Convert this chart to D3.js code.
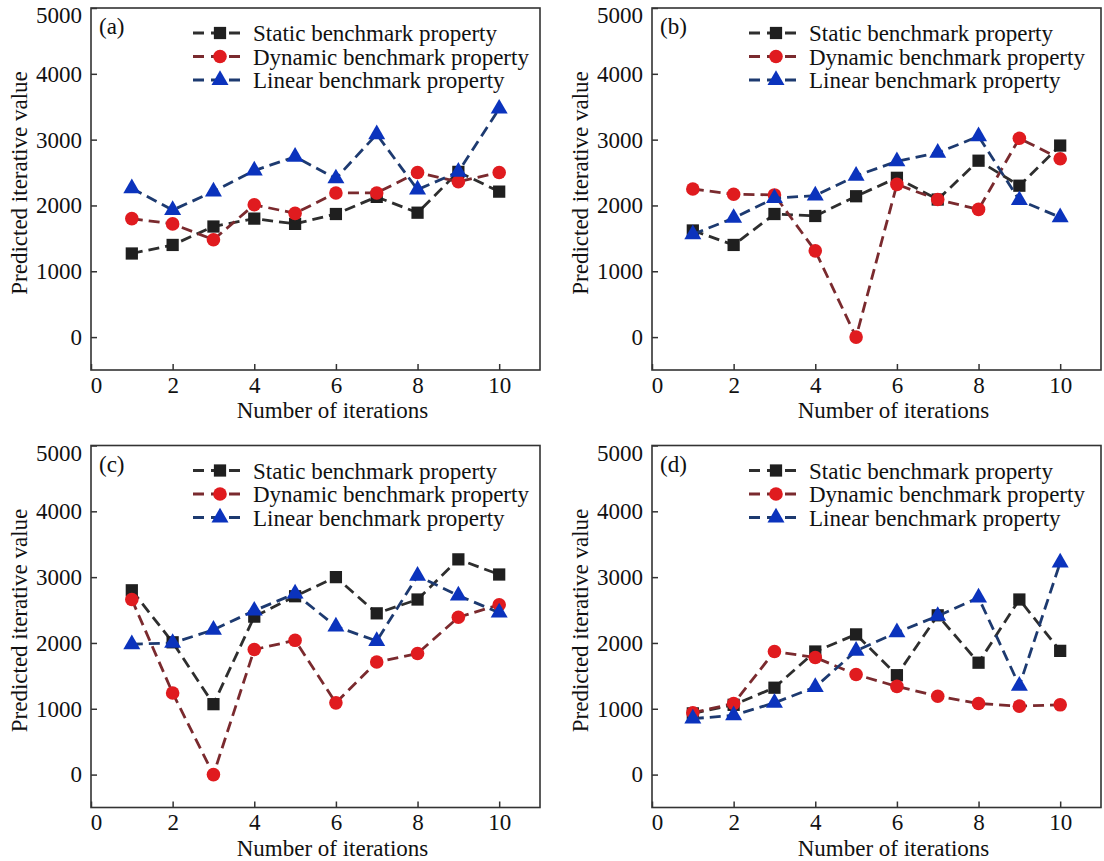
<!DOCTYPE html>
<html>
<head>
<meta charset="utf-8">
<script src="https://cdn.jsdelivr.net/npm/d3@7"></script>
<style>
  body { margin: 0; background: #fff; }
  svg { display: block; }
  svg text { font-family: "Liberation Serif", "Times New Roman", serif; }
</style>
</head>
<body>
<div id="chart"></div>
<script>
const iterations = [1, 2, 3, 4, 5, 6, 7, 8, 9, 10];
const xTicks = [0, 2, 4, 6, 8, 10];
const yTicks = [0, 1000, 2000, 3000, 4000, 5000];
const panelLabels = ["(a)", "(b)", "(c)", "(d)"];
const seriesNames = ["Static benchmark property", "Dynamic benchmark property", "Linear benchmark property"];

const staticA = [1270, 1400, 1680, 1800, 1720, 1870, 2130, 1890, 2510, 2210];
const dynamicA = [1800, 1720, 1480, 2010, 1880, 2190, 2190, 2500, 2360, 2500];
const linearA = [2260, 1930, 2210, 2530, 2740, 2410, 3080, 2240, 2510, 3470];

const staticB = [1620, 1400, 1870, 1840, 2140, 2420, 2090, 2680, 2300, 2910];
const dynamicB = [2250, 2170, 2160, 1310, 0, 2320, 2090, 1940, 3020, 2710];
const linearB = [1560, 1810, 2110, 2150, 2450, 2670, 2800, 3050, 2080, 1820];

const staticC = [2800, 2010, 1070, 2400, 2710, 3000, 2450, 2660, 3270, 3040];
const dynamicC = [2660, 1240, 0, 1900, 2040, 1090, 1710, 1840, 2390, 2580];
const linearC = [1980, 2000, 2200, 2490, 2750, 2250, 2030, 3020, 2720, 2460];

const staticD = [930, 1060, 1320, 1870, 2130, 1510, 2420, 1700, 2660, 1880];
const dynamicD = [940, 1080, 1870, 1780, 1520, 1340, 1190, 1080, 1040, 1060];
const linearD = [850, 900, 1090, 1330, 1880, 2160, 2410, 2690, 1350, 3220];

const panelValues = [
  [staticA, dynamicA, linearA],
  [staticB, dynamicB, linearB],
  [staticC, dynamicC, linearC],
  [staticD, dynamicD, linearD]
];

// layout of the four panels
const panelW = 449, panelH = 362;
const layout = [
  { left: 91, top: 8, legendX: 162 },
  { left: 652, top: 8, legendX: 157 },
  { left: 91, top: 445.5, legendX: 162 },
  { left: 652, top: 445.5, legendX: 157 }
];

const styles = [
  { line: "#2e2e2e", fill: "#1f1f1f", symbol: d3.symbolSquare, size: 150 },
  { line: "#7a2a2e", fill: "#e01b1f", symbol: d3.symbolCircle, size: 145 },
  { line: "#1d3a70", fill: "#0b33bd", symbol: d3.symbolTriangle, size: 125 }
];

const fontSize = 23;
const axisColor = "#333";
const textColor = "#111";

const svg = d3.select("#chart").append("svg")
  .attr("width", 1104)
  .attr("height", 861);

const x = d3.scaleLinear().domain([0, 11]).range([0, panelW]);
const y = d3.scaleLinear().domain([-500, 5000]).range([panelH, 0]);

function styleAxis(axisG) {
  axisG.attr("font-family", null).attr("font-size", null);
  axisG.select(".domain").remove();
  axisG.selectAll("text").attr("font-size", fontSize).attr("fill", textColor);
  axisG.selectAll(".tick line").attr("stroke", axisColor).attr("stroke-width", 1.5);
}

layout.forEach((p, pi) => {
  const g = svg.append("g").attr("transform", `translate(${p.left},${p.top})`);

  // axes, ticks pointing inward
  const xAxis = g.append("g")
    .attr("transform", `translate(0,${panelH})`)
    .call(d3.axisBottom(x).tickValues(xTicks).tickFormat(d3.format("d")).tickSize(-6).tickPadding(6.5));
  styleAxis(xAxis);
  xAxis.selectAll(".tick").filter(d => d === 0).select("text").attr("dx", 5);

  const yAxis = g.append("g")
    .call(d3.axisLeft(y).tickValues(yTicks).tickFormat(d3.format("d")).tickSize(-6).tickPadding(9));
  styleAxis(yAxis);
  yAxis.selectAll(".tick").filter(d => d === 5000).select("text").attr("dy", "0.65em");

  g.append("rect")
    .attr("width", panelW)
    .attr("height", panelH)
    .attr("fill", "none")
    .attr("stroke", axisColor)
    .attr("stroke-width", 1.6);

  g.append("text")
    .attr("x", panelW / 2 + 17)
    .attr("y", panelH + 48)
    .attr("text-anchor", "middle")
    .attr("font-size", fontSize)
    .attr("fill", textColor)
    .text("Number of iterations");

  g.append("text")
    .attr("transform", `translate(-64,${panelH / 2 - 6}) rotate(-90)`)
    .attr("text-anchor", "middle")
    .attr("font-size", fontSize)
    .attr("fill", textColor)
    .text("Predicted iterative value");

  g.append("text")
    .attr("x", 8)
    .attr("y", 26)
    .attr("font-size", fontSize)
    .attr("fill", textColor)
    .text(panelLabels[pi]);

  // series: dashed line then markers
  const line = d3.line().x((d, i) => x(iterations[i])).y(d => y(d));
  panelValues[pi].forEach((vals, si) => {
    const s = styles[si];
    g.append("path")
      .attr("d", line(vals))
      .attr("fill", "none")
      .attr("stroke", s.line)
      .attr("stroke-width", 2.8)
      .attr("stroke-dasharray", "11,6");

    g.selectAll(null)
      .data(vals)
      .enter().append("path")
      .attr("transform", (d, i) => `translate(${x(iterations[i])},${y(d)})`)
      .attr("d", d3.symbol().type(s.symbol).size(s.size))
      .attr("fill", s.fill);
  });

  // legend
  seriesNames.forEach((name, si) => {
    const s = styles[si];
    const cy = 25 + si * 23.5;
    g.append("line")
      .attr("x1", p.legendX - 60)
      .attr("x2", p.legendX - 10)
      .attr("y1", cy)
      .attr("y2", cy)
      .attr("stroke", s.line)
      .attr("stroke-width", 2.8)
      .attr("stroke-dasharray", "11,7");
    g.append("path")
      .attr("transform", `translate(${p.legendX - 33},${cy})`)
      .attr("d", d3.symbol().type(s.symbol).size(s.size))
      .attr("fill", s.fill);
    g.append("text")
      .attr("x", p.legendX)
      .attr("y", cy)
      .attr("dy", "0.35em")
      .attr("font-size", fontSize)
      .attr("fill", textColor)
      .text(name);
  });
});
</script>
</body>
</html>
